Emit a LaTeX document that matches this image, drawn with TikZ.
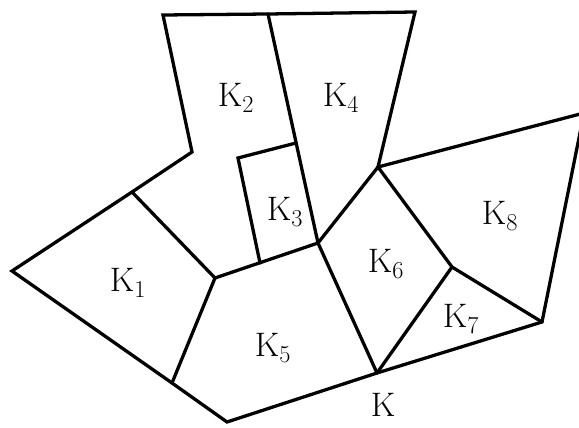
\documentclass[tikz,border=0pt]{standalone}
\usepackage{tikz}
\tikzset{
  edge/.style={line width=2.8pt, line join=miter, line cap=round},
  lab/.style={inner sep=0pt, font=\fontsize{29}{32}\selectfont}
}

\begin{document}
\begin{tikzpicture}[x=0.03cm, y=-0.03cm]
    \useasboundingbox (0,0) rectangle (579,428);
    \clip (0,0) rectangle (579,428);
    % corners of the cells
    \coordinate (a) at (163,15);
    \coordinate (t) at (268,14);
    \coordinate (e) at (415,12);
    \coordinate (b) at (192,152);
    \coordinate (c) at (132,192);
    \coordinate (d) at (12,271);
    \coordinate (g) at (172,383);
    \coordinate (h) at (227,422);
    \coordinate (k) at (377,373);
    \coordinate (j) at (542,322);
    \coordinate (l) at (584,113);
    \coordinate (m) at (378,167);
    \coordinate (n) at (452,267);
    \coordinate (p) at (318,243);
    \coordinate (f) at (215,278);
    \coordinate (q) at (296,143);
    \coordinate (r) at (238,158);
    \coordinate (s) at (260,263);
    % outline
    \draw[edge] (a) -- (t) -- (e) -- (m) -- (l) -- (j) -- (k) -- (h) -- (g) -- (d) -- (c) -- (b) -- cycle;
    % inner edges
    \draw[edge] (t) -- (p);
    \draw[edge] (q) -- (r) -- (s);
    \draw[edge] (c) -- (f);
    \draw[edge] (f) -- (p);
    \draw[edge] (f) -- (g);
    \draw[edge] (m) -- (p) -- (k);
    \draw[edge] (m) -- (n) -- (j);
    \draw[edge] (n) -- (k);
    % cell names
    \node[lab] (k1) at (128,283) {K$_1$};
    \node[lab] (k2) at (236,98) {K$_2$};
    \node[lab] (k3) at (285,212) {K$_3$};
    \node[lab] (k4) at (341,98) {K$_4$};
    \node[lab] (k5) at (273,348) {K$_5$};
    \node[lab] (k6) at (386,264) {K$_6$};
    \node[lab] (k7) at (461,319) {K$_7$};
    \node[lab] (k8) at (500,216) {K$_8$};
    \node[lab] (kk) at (383,405) {K};
\end{tikzpicture}
\end{document}
